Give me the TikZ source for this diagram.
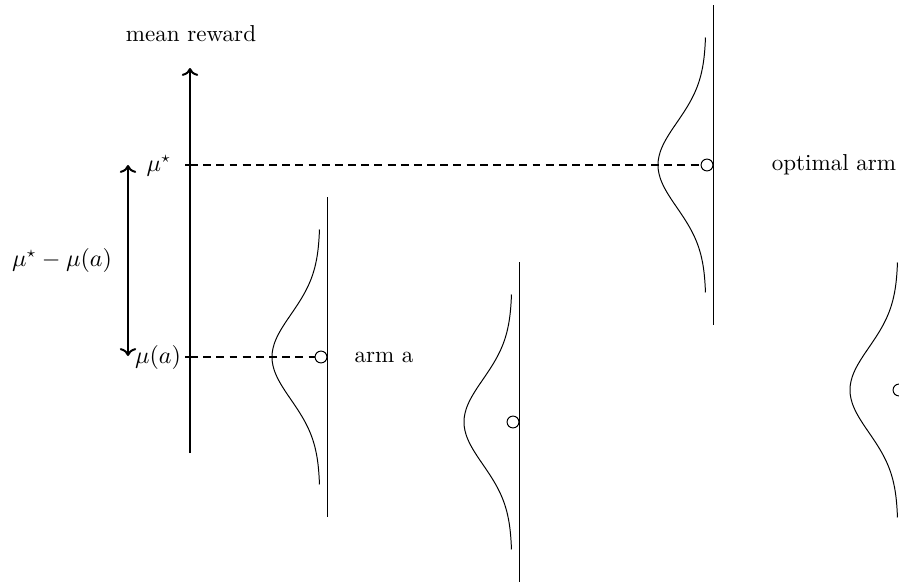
\documentclass[tikz,border=0pt]{standalone}
\usetikzlibrary{positioning,arrows.meta,calc}
\tikzset{
    axisline/.style={line width=0.9pt},
    axtick/.style={line width=0.5pt},
    armline/.style={line width=0.45pt},
    density/.style={line width=0.45pt},
    meanpt/.style={draw, circle, inner sep=0pt, minimum size=0.19cm, line width=0.45pt},
    guide/.style={dash pattern=on 3.6pt off 2.4pt, line width=0.5pt},
    lbl/.style={font=\fontsize{10.5}{12.6}\selectfont}
}

\begin{document}
\begin{tikzpicture}[x=0.016cm,y=-0.016cm]
\useasboundingbox (0,0) rectangle (899,584);
% reward axis
\coordinate (base) at (190,453);
\coordinate (top) at (190,68);
\draw[axisline,->] (base) -- (top);
\node[lbl] (title) at (191,34) {mean reward};
% levels on the axis
\coordinate (ostar) at (190,165);
\coordinate (oa) at (190,357);
\draw[axtick] ($(ostar)+(-5,0)$) -- ($(ostar)+(5,0)$);
\draw[axtick] ($(oa)+(-5,0)$) -- ($(oa)+(5,0)$);
\node[lbl] (mustar) at (159,166) {$\mu^\star$};
\node[lbl] (mua) at (158,357) {$\mu(a)$};
% gap between the two means
\coordinate (gtop) at (128,165);
\coordinate (gbot) at (128,356);
\draw[axisline,<->] (gtop) -- (gbot);
\node[lbl] (gap) at (62,260) {$\mu^\star-\mu(a)$};
% arms
\foreach \L/\c/\n in {327/357/a, 519/422/b, 713/165/opt, 905/390/d}{
    \draw[armline] (\L,\c-160) -- (\L,\c+160);
    \draw[density] plot[domain=-3:3, samples=61, smooth] ({\L-7-48*exp(-\x*\x/2)}, {\c+42.5*\x});
    \node[meanpt] (m\n) at (\L-6,\c) {};
}
\draw[guide] (ostar) -- (mopt);
\draw[guide] (oa) -- (ma);
\node[lbl] (arma) at (384,357) {arm a};
\node[lbl] (armopt) at (834,165) {optimal arm};
\end{tikzpicture}
\end{document}
